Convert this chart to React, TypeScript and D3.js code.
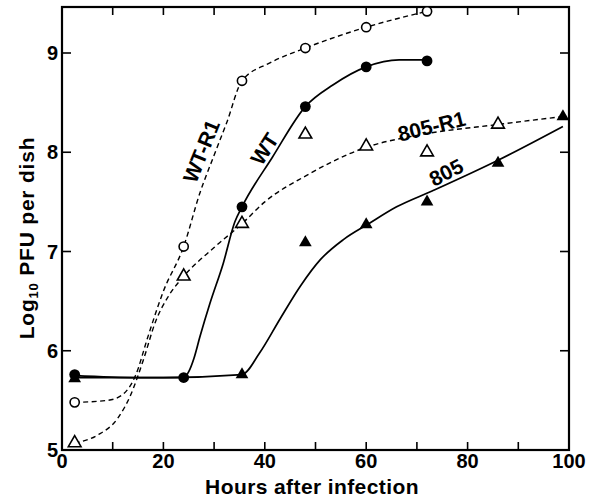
import React from 'react'
import * as d3 from 'd3'

const W = 592
const H = 498
const FONT = '"Liberation Sans", Arial, Helvetica, sans-serif'

const xTickLabels = [0, 20, 40, 60, 80, 100]
const xMinorTicks = [10, 20, 30, 40, 50, 60, 70, 80, 90]
const yTickLabels = [5, 6, 7, 8, 9]

// measured points: [hours, log10 PFU]
const wtR1Points = [[2.5, 5.48], [24, 7.05], [35.5, 8.72], [48, 9.05], [60, 9.26], [72, 9.42]]
const wtPoints = [[2.5, 5.76], [24, 5.73], [35.5, 7.45], [48, 8.46], [60, 8.86], [72, 8.92]]
const r805R1Points = [[2.5, 5.07], [24, 6.75], [35.5, 7.28], [48, 8.18], [60, 8.06], [72, 8.0], [86, 8.28]]
const r805Points = [[2.5, 5.72], [35.5, 5.76], [48, 7.09], [60, 7.27], [72, 7.5], [86, 7.89], [98.8, 8.36]]

// hand drawn fit curves
const wtR1Curve = [[2.5, 5.48], [9, 5.5], [12, 5.56], [14.5, 5.75], [17, 6.15], [20, 6.6], [24, 7.05],
  [27.2, 7.59], [30, 7.97], [32.5, 8.3], [35.5, 8.72], [41, 8.9], [48, 9.05], [60, 9.26], [72, 9.42]]
const wtCurve = [[2.5, 5.75], [15, 5.73], [24, 5.73], [25, 5.79], [26, 5.92], [27.2, 6.14], [29.2, 6.48],
  [31.8, 6.88], [34.1, 7.3], [35.5, 7.45], [41.5, 7.95], [48, 8.46], [53.5, 8.68], [60, 8.86], [66.5, 8.93], [72, 8.93]]
const r805R1Curve = [[2.5, 5.07], [7, 5.15], [11, 5.32], [13.5, 5.55], [16, 5.9], [18.5, 6.3], [21, 6.55],
  [24, 6.75], [30, 7.04], [35.5, 7.28], [40, 7.5], [48, 7.76], [60, 8.05], [70, 8.17], [86, 8.28], [98.8, 8.36]]
const r805Curve = [[2.5, 5.73], [20, 5.73], [35.5, 5.76], [39, 5.98], [43, 6.32], [47, 6.65], [51, 6.92],
  [55.5, 7.12], [60.5, 7.28], [66, 7.45], [73, 7.61], [86.4, 7.93], [98.8, 8.26]]

const curveLabels = [
  { text: 'WT-R1', x: 203, y: 152, angle: -68 },
  { text: 'WT', x: 266, y: 150, angle: -57 },
  { text: '805-R1', x: 432, y: 128, angle: -14 },
  { text: '805', x: 447, y: 174, angle: -27 },
]

export default function App() {
  const left = 62, right = 569, top = 7, bottom = 450
  const x = d3.scaleLinear().domain([0, 100]).range([left, right])
  const y = d3.scaleLinear().domain([5, 9]).range([bottom, 53])

  const line = d3.line<number[]>()
    .x((d) => x(d[0]))
    .y((d) => y(d[1]))
    .curve(d3.curveMonotoneX)

  const tri = d3.symbol().type(d3.symbolTriangle).size(70)()

  return (
    <svg width={W} height={H} style={{ position: 'absolute', left: 0, top: 0, background: '#fff' }}
      fontFamily={FONT} fontWeight="bold">
      <rect x={0} y={0} width={W} height={H} fill="#fff" />

      {/* curves */}
      <path d={line(wtR1Curve)} fill="none" stroke="#000" strokeWidth={1.4} strokeDasharray="5,3.5" />
      <path d={line(r805R1Curve)} fill="none" stroke="#000" strokeWidth={1.4} strokeDasharray="5,3.5" />
      <path d={line(wtCurve)} fill="none" stroke="#000" strokeWidth={1.7} />
      <path d={line(r805Curve)} fill="none" stroke="#000" strokeWidth={1.7} />

      {/* frame */}
      <rect x={left} y={top} width={right - left} height={bottom - top} fill="none" stroke="#000" strokeWidth={2.2} />
      {xMinorTicks.map((t) => (
        <g key={'xt' + t}>
          <line x1={x(t)} x2={x(t)} y1={bottom} y2={bottom - 8} stroke="#000" strokeWidth={1.6} />
          <line x1={x(t)} x2={x(t)} y1={top} y2={top + 8} stroke="#000" strokeWidth={1.6} />
        </g>
      ))}
      {yTickLabels.slice(1).map((t) => (
        <g key={'yt' + t}>
          <line x1={left} x2={left + 9} y1={y(t)} y2={y(t)} stroke="#000" strokeWidth={1.6} />
          <line x1={right} x2={right - 9} y1={y(t)} y2={y(t)} stroke="#000" strokeWidth={1.6} />
        </g>
      ))}

      {/* tick labels */}
      {xTickLabels.map((t) => (
        <text key={'xl' + t} x={x(t)} y={468} textAnchor="middle" fontSize={20}>{t}</text>
      ))}
      {yTickLabels.map((t) => (
        <text key={'yl' + t} x={58} y={y(t) + 7} textAnchor="end" fontSize={20}>{t}</text>
      ))}

      {/* axis titles */}
      <text x={312} y={494} textAnchor="middle" fontSize={21} letterSpacing={0.4}>Hours after infection</text>
      <text transform="translate(34,238) rotate(-90)" textAnchor="middle" fontSize={21} letterSpacing={0.8}>
        Log<tspan fontSize={13} dy={4}>10</tspan><tspan dy={-4}> PFU per dish</tspan>
      </text>

      {/* markers */}
      {wtR1Points.map((d, i) => (
        <circle key={'c' + i} cx={x(d[0])} cy={y(d[1])} r={4.6} fill="#fff" stroke="#000" strokeWidth={1.6} />
      ))}
      {r805R1Points.map((d, i) => (
        <path key={'ot' + i} d={tri} transform={`translate(${x(d[0])},${y(d[1])})`} fill="#fff" stroke="#000" strokeWidth={1.6} />
      ))}
      {r805Points.map((d, i) => (
        <path key={'ft' + i} d={tri} transform={`translate(${x(d[0])},${y(d[1])})`} fill="#000" />
      ))}
      {wtPoints.map((d, i) => (
        <circle key={'fc' + i} cx={x(d[0])} cy={y(d[1])} r={5.4} fill="#000" />
      ))}

      {/* curve labels */}
      {curveLabels.map((l) => (
        <text key={l.text} transform={`translate(${l.x},${l.y}) rotate(${l.angle})`} textAnchor="middle"
          dominantBaseline="middle" fontSize={21} fill="#000">
          {l.text}
        </text>
      ))}
    </svg>
  )
}
